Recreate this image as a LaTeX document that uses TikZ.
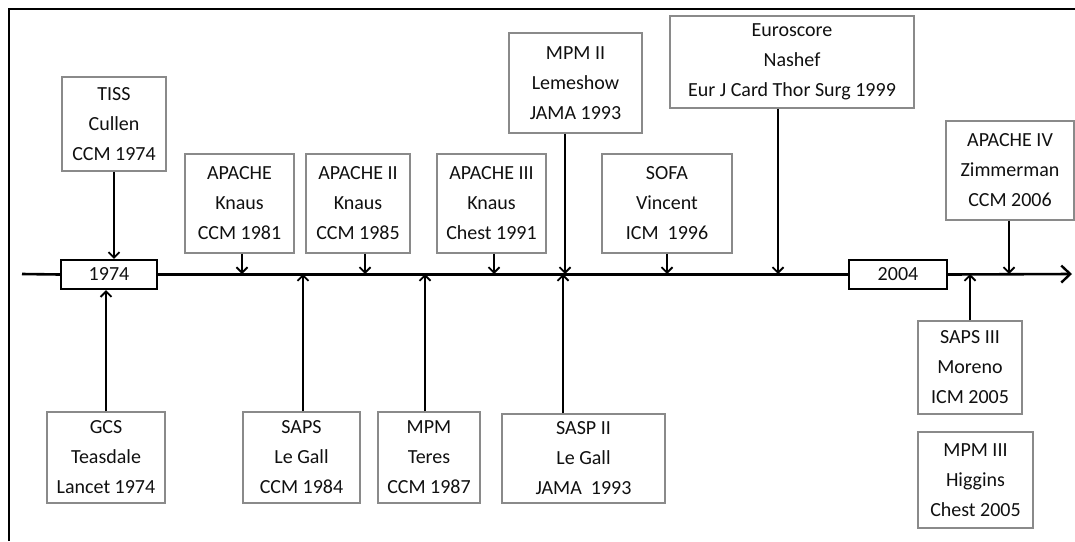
\documentclass[tikz,border=0pt]{standalone}
\usepackage{fontspec}
\setmainfont{Carlito}
\usetikzlibrary{arrows.meta}
\definecolor{txt}{HTML}{101010}
\definecolor{boxline}{HTML}{8A8A8A}
\begin{document}
\begin{tikzpicture}[x=1pt,y=-1pt,
  mbox/.style={draw=boxline,line width=1.1pt,inner sep=0pt,align=center,text=txt,
    font=\fontsize{20}{30}\selectfont},
  ybox/.style={draw=black,line width=2.4pt,inner sep=0pt,text=txt,
    font=\fontsize{20}{24}\selectfont,minimum height=29pt},
  tick/.style={line width=2pt,-{Straight Barb[length=5.5pt,width=11pt,line width=1.8pt]}},
  axis/.style={line width=2.6pt,-{Straight Barb[length=9pt,width=17pt,line width=2.4pt]}},
  frame/.style={line width=2.2pt}]
\useasboundingbox (0,0) rectangle (1075,541);
% frame (left and top edges)
\draw[frame] (9,541) -- (9,9) -- (1075,9);
% axis
\coordinate (axL) at (22,274);
\coordinate (axR) at (1072,274);
\node[ybox,minimum width=96pt] (y1974) at (109,274.5) {1974};
\node[ybox,minimum width=98pt] (y2004) at (898,274.5) {2004};
\draw[line width=2.6pt] (axL) -- (y1974.west);
\draw[line width=2.6pt] (y1974.east) -- (y2004.west);
\draw[axis] (y2004.east) -- (axR);
% top boxes
\node[mbox,minimum width=104pt,minimum height=94pt] (tiss) at (114,124) {TISS\\Cullen\\CCM 1974};
\node[mbox,minimum width=109pt,minimum height=99pt] (apache) at (239.5,203.5) {APACHE\\Knaus\\CCM 1981};
\node[mbox,minimum width=104pt,minimum height=99pt] (apache2) at (358,203.5) {APACHE II\\Knaus\\CCM 1985};
\node[mbox,minimum width=109pt,minimum height=99pt] (apache3) at (491.5,203.5) {APACHE III\\Knaus\\Chest 1991};
\node[mbox,minimum width=133pt,minimum height=100pt] (mpm2) at (575.5,83) {MPM II\\Lemeshow\\JAMA 1993};
\node[mbox,minimum width=130pt,minimum height=99pt] (sofa) at (667,203.5) {SOFA\\Vincent\\ICM\ \ 1996};
\node[mbox,minimum width=244pt,minimum height=92pt] (euro) at (792,62) {Euroscore\\Nashef\\Eur J Card Thor Surg 1999};
\node[mbox,minimum width=128pt,minimum height=99pt] (apache4) at (1010,170.5) {APACHE IV\\Zimmerman\\CCM 2006};
% bottom boxes
\node[mbox,minimum width=118pt,minimum height=91pt] (gcs) at (106,457.5) {GCS\\Teasdale\\Lancet 1974};
\node[mbox,minimum width=117pt,minimum height=91pt] (saps) at (301.5,457.5) {SAPS\\Le Gall\\CCM 1984};
\node[mbox,minimum width=102pt,minimum height=91pt] (mpm) at (429,457.5) {MPM\\Teres\\CCM 1987};
\node[mbox,minimum width=163pt,minimum height=89pt] (sasp2) at (583.5,458.5) {SASP II\\Le Gall\\JAMA\ \ 1993};
\node[mbox,minimum width=104pt,minimum height=93pt] (saps3) at (970,367.5) {SAPS III\\Moreno\\ICM 2005};
\node[mbox,minimum width=115pt,minimum height=96pt] (mpm3) at (975.5,480) {MPM III\\Higgins\\Chest 2005};
% axis points
\coordinate (pApache) at (242,274);
\coordinate (pApache2) at (365,274);
\coordinate (pApache3) at (494,274);
\coordinate (pMpm2) at (565,274);
\coordinate (pSofa) at (667,274);
\coordinate (pEuro) at (778,274);
\coordinate (pApache4) at (1009,274);
\coordinate (pSaps) at (303,274);
\coordinate (pMpm) at (425,274);
\coordinate (pSasp2) at (563,274);
\coordinate (pSaps3) at (970,274);
% arrows from above
\draw[tick] (tiss.south) -- (y1974.north -| tiss.south);
\draw[tick] (apache.south -| pApache) -- (pApache);
\draw[tick] (apache2.south -| pApache2) -- (pApache2);
\draw[tick] (apache3.south -| pApache3) -- (pApache3);
\draw[tick] (mpm2.south -| pMpm2) -- (pMpm2);
\draw[tick] (sofa.south -| pSofa) -- (pSofa);
\draw[tick] (euro.south -| pEuro) -- (pEuro);
\draw[tick] (apache4.south -| pApache4) -- (pApache4);
% arrows from below
\draw[tick] (gcs.north) -- (y1974.south -| gcs.north);
\draw[tick] (saps.north -| pSaps) -- (pSaps);
\draw[tick] (mpm.north -| pMpm) -- (pMpm);
\draw[tick] (sasp2.north -| pSasp2) -- (pSasp2);
\draw[tick] (saps3.north -| pSaps3) -- (pSaps3);
\end{tikzpicture}
\end{document}
